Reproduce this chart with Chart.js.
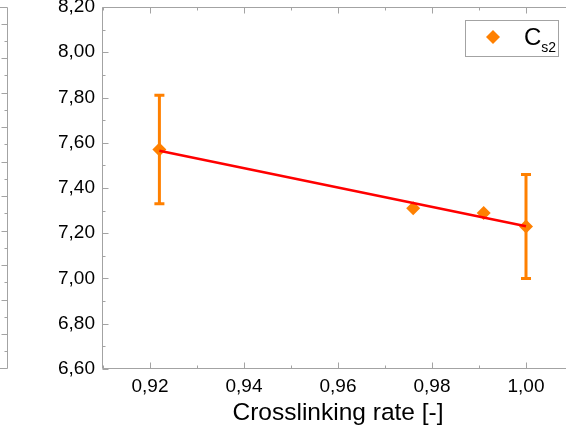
<!DOCTYPE html>
<html><head><meta charset="utf-8">
<script src="https://cdn.jsdelivr.net/npm/chart.js@4/dist/chart.umd.min.js"></script>
<style>
html,body{margin:0;padding:0;overflow:hidden;background:#fff;width:566px;height:432px;}
#wrap{position:absolute;left:0;top:0;width:580px;height:432px;}
</style></head><body>
<div id="wrap"><canvas id="c"></canvas></div>
<script>
// ---- data ----
const crosslinkRate = [0.922, 0.976, 0.991, 1.000];
const cs2Values     = [7.57, 7.31, 7.29, 7.23];
const cs2Errors     = [0.24, 0, 0, 0.23];
const fitX = [0.922, 1.000];
const fitY = [7.565, 7.231];
const xTickLabels = ['0,92', '0,94', '0,96', '0,98', '1,00'];
const yTickLabels = ['6,60', '6,80', '7,00', '7,20', '7,40', '7,60', '7,80', '8,00', '8,20'];
const seriesMain = 'C';
const seriesSub = 's2';
const xTitle = 'Crosslinking rate [-]';

const FONT = "'Liberation Sans', Arial, sans-serif";
const ORANGE = '#ff8000';
const AXIS = '#a3a3a3';

function fmt(v){ return v.toFixed(2).replace('.', ','); }

const frameAndTicks = {
  id: 'frameAndTicks',
  beforeDatasetsDraw(chart) {
    const ctx = chart.ctx, xs = chart.scales.x, ys = chart.scales.y;
    ctx.save();
    ctx.strokeStyle = ORANGE;
    ctx.lineWidth = 3;
    crosslinkRate.forEach((xv, i) => {
      const e = cs2Errors[i];
      if (!e) return;
      const px = xs.getPixelForValue(xv);
      const pt = ys.getPixelForValue(cs2Values[i] + e);
      const pb = ys.getPixelForValue(cs2Values[i] - e);
      ctx.beginPath();
      ctx.moveTo(px, pt); ctx.lineTo(px, pb);
      ctx.moveTo(px - 5, pt); ctx.lineTo(px + 5, pt);
      ctx.moveTo(px - 5, pb); ctx.lineTo(px + 5, pb);
      ctx.stroke();
    });
    ctx.restore();
  },
  afterDraw(chart) {
    const ctx = chart.ctx, xs = chart.scales.x, ys = chart.scales.y;
    const a = chart.chartArea;
    const L = Math.round(a.left) - 0.5, T = Math.round(a.top) + 0.5, B = Math.round(a.bottom) - 0.5, R = a.right;
    ctx.save();
    ctx.strokeStyle = AXIS;
    ctx.lineWidth = 1;
    ctx.beginPath();
    ctx.moveTo(R, T); ctx.lineTo(L, T); ctx.lineTo(L, B); ctx.lineTo(R, B);
    xs.ticks.forEach(t => {
      const k = Math.round(t.value * 100);
      const len = (k % 2 === 0) ? 6 : 3;
      const px = Math.round(xs.getPixelForValue(t.value)) + 0.5;
      ctx.moveTo(px, B); ctx.lineTo(px, B - len);
      ctx.moveTo(px, T); ctx.lineTo(px, T + len);
    });
    ys.ticks.forEach(t => {
      const k = Math.round(t.value * 10);
      const len = (k % 2 === 0) ? 6 : 3;
      const py = Math.round(ys.getPixelForValue(t.value)) + 0.5;
      ctx.moveTo(L, py); ctx.lineTo(L + len, py);
    });
    // right edge of neighbouring panel (cropped)
    ctx.moveTo(0, 7.5); ctx.lineTo(7.5, 7.5); ctx.lineTo(7.5, 368.5); ctx.lineTo(0, 368.5);
    for (let j = 1; j <= 20; j++) {
      const py = Math.round(368.5 - 17.24 * j) + 0.5;
      const len = (j % 2 === 0) ? 6 : 3;
      ctx.moveTo(7.5, py); ctx.lineTo(7.5 - len, py);
    }
    ctx.stroke();

    // legend
    ctx.strokeStyle = AXIS;
    ctx.strokeRect(465.5, 20.5, 93, 36);
    const lx = 493, ly = 37, r = 7;
    ctx.fillStyle = ORANGE;
    ctx.beginPath();
    ctx.moveTo(lx, ly - r); ctx.lineTo(lx + r, ly); ctx.lineTo(lx, ly + r); ctx.lineTo(lx - r, ly);
    ctx.closePath(); ctx.fill();
    ctx.fillStyle = '#000';
    ctx.textBaseline = 'alphabetic';
    ctx.textAlign = 'left';
    ctx.font = '24px ' + FONT;
    ctx.fillText(seriesMain, 524, 45);
    const cw = ctx.measureText(seriesMain).width;
    ctx.font = '14px ' + FONT;
    ctx.fillText(seriesSub, 524 + cw, 52);
    ctx.restore();
  }
};

new Chart(document.getElementById('c'), {
  type: 'scatter',
  data: {
    datasets: [
      {
        label: 'fit',
        data: fitX.map((x, i) => ({x: x, y: fitY[i]})),
        showLine: true,
        borderColor: '#ff0000',
        borderWidth: 2.5,
        pointRadius: 0,
        fill: false
      },
      {
        label: seriesMain + seriesSub,
        data: crosslinkRate.map((x, i) => ({x: x, y: cs2Values[i]})),
        pointStyle: 'rectRot',
        pointRadius: 7,
        backgroundColor: ORANGE,
        borderColor: ORANGE,
        borderWidth: 0
      }
    ]
  },
  options: {
    responsive: true,
    maintainAspectRatio: false,
    animation: false,
    layout: {padding: {left: 0, top: 7, right: 5.5, bottom: 0}},
    plugins: {legend: {display: false}, tooltip: {enabled: false}},
    scales: {
      x: {
        type: 'linear', min: 0.91, max: 1.01,
        afterFit(s){ s.height = 63; s.paddingLeft = 0; s.paddingRight = 0; },
        grid: {display: false, drawTicks: false},
        border: {display: false},
        ticks: {
          stepSize: 0.01, autoSkip: false, maxRotation: 0, padding: 6,
          color: '#000', font: {size: 19, family: FONT},
          callback(v){
            const k = Math.round(v * 100);
            if (k % 2 !== 0) return '';
            const s = fmt(v);
            return xTickLabels.includes(s) ? s : '';
          }
        },
        title: {display: true, text: xTitle, color: '#000', font: {size: 24.5, family: FONT}, padding: {top: 0, bottom: 4}}
      },
      y: {
        type: 'linear', min: 6.6, max: 8.2,
        afterFit(s){ s.width = 103; s.paddingTop = 0; s.paddingBottom = 0; },
        grid: {display: false, drawTicks: false},
        border: {display: false},
        ticks: {
          stepSize: 0.1, autoSkip: false, padding: 8,
          color: '#000', font: {size: 19, family: FONT},
          callback(v){
            const k = Math.round(v * 10);
            if (k % 2 !== 0) return '';
            const s = fmt(v);
            return yTickLabels.includes(s) ? s : '';
          }
        }
      }
    }
  },
  plugins: [frameAndTicks]
});
</script>
</body></html>
